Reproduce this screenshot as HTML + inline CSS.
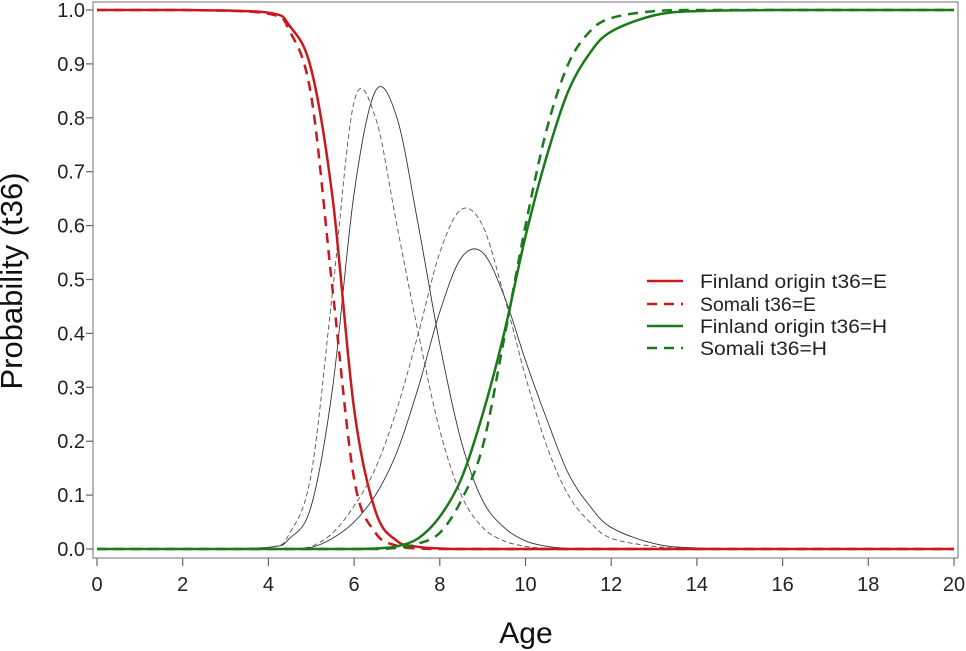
<!DOCTYPE html>
<html><head><meta charset="utf-8"><style>
body{margin:0;background:#fff;}
svg{display:block;font-family:"Liberation Sans",sans-serif;}
</style></head><body>
<svg id="chart" width="966" height="651" xmlns="http://www.w3.org/2000/svg">
<rect x="93" y="2" width="865" height="556" fill="#fff" stroke="#888" stroke-width="1.2"/>
<g id="axes"></g>
<g id="series"></g>
<text x="22" y="281" font-size="31" text-anchor="middle" transform="rotate(-90 22 281)" fill="#111">Probability (t36)</text>
<text x="526" y="643" font-size="30" text-anchor="middle" fill="#111">Age</text>
<g>
<line x1="647" y1="281" x2="683" y2="281" stroke="#c8191e" stroke-width="2.5"/>
<text x="700" y="288" font-size="19" textLength="187" lengthAdjust="spacingAndGlyphs" fill="#222">Finland origin t36=E</text>
<line x1="647" y1="304" x2="683" y2="304" stroke="#c8191e" stroke-width="2.5" stroke-dasharray="10,7"/>
<text x="700" y="311" font-size="19" textLength="116" lengthAdjust="spacingAndGlyphs" fill="#222">Somali t36=E</text>
<line x1="647" y1="326" x2="683" y2="326" stroke="#1a7a1a" stroke-width="2.5"/>
<text x="700" y="333" font-size="19" textLength="187" lengthAdjust="spacingAndGlyphs" fill="#222">Finland origin t36=H</text>
<line x1="647" y1="348" x2="683" y2="348" stroke="#1a7a1a" stroke-width="2.5" stroke-dasharray="10,7"/>
<text x="700" y="355" font-size="19" textLength="127" lengthAdjust="spacingAndGlyphs" fill="#222">Somali t36=H</text>
</g>
</svg>
<script>
const ages =        [0,2,4,4.5,5,5.5,6,6.5,7,7.5,8,8.5,9,9.5,10,10.5,11,11.5,12,13,14,16,20];
const finE =        [1,1,0.995,0.97,0.89,0.65,0.26,0.07,0.015,0.004,0.001,0,0,0,0,0,0,0,0,0,0,0,0];
const somE =        [1,1,0.993,0.96,0.84,0.48,0.13,0.03,0.006,0.001,0,0,0,0,0,0,0,0,0,0,0,0,0];
const finH =        [0,0,0,0,0,0,0,0.001,0.005,0.02,0.06,0.13,0.25,0.4,0.58,0.73,0.85,0.92,0.96,0.99,0.998,1,1];
const somH =        [0,0,0,0,0,0,0,0,0.002,0.01,0.03,0.09,0.19,0.39,0.6,0.78,0.9,0.96,0.985,0.998,1,1,1];
const finMid1 =     [0,0,0.003,0.02,0.08,0.3,0.66,0.85,0.8,0.6,0.38,0.2,0.09,0.04,0.015,0.005,0.001,0,0,0,0,0,0];
const somMid1 =     [0,0,0.003,0.03,0.14,0.48,0.83,0.8,0.6,0.4,0.22,0.1,0.04,0.015,0.005,0.001,0,0,0,0,0,0,0];
const finMid2 =     [0,0,0,0.001,0.003,0.02,0.05,0.1,0.18,0.3,0.44,0.54,0.55,0.47,0.35,0.24,0.14,0.08,0.04,0.01,0.002,0,0];
const somMid2 =     [0,0,0,0.001,0.005,0.03,0.08,0.15,0.26,0.4,0.55,0.63,0.6,0.47,0.32,0.19,0.1,0.05,0.02,0.005,0.001,0,0];
const xTicks = [0,2,4,6,8,10,12,14,16,18,20];
const yTicks = [0,0.1,0.2,0.3,0.4,0.5,0.6,0.7,0.8,0.9,1.0];

const NS="http://www.w3.org/2000/svg";
function xs(v){return 97+v*(954-97)/20;}
function ys(v){return 549-v*(549-10);}
function mk(tag,attrs,parent){const e=document.createElementNS(NS,tag);for(const k in attrs)e.setAttribute(k,attrs[k]);parent.appendChild(e);return e;}
const axes=document.getElementById('axes');
xTicks.forEach(t=>{
  const l=mk('line',{x1:xs(t),x2:xs(t),y1:558,y2:566,stroke:'#666','stroke-width':1.2},axes);
  
  
  const tx=mk('text',{x:xs(t),y:591,'font-size':20,'text-anchor':'middle',fill:'#222'},axes);
  tx.textContent=t;
  
  
});
yTicks.forEach(t=>{
  const l=mk('line',{x1:86,x2:93,y1:ys(t),y2:ys(t),stroke:'#666','stroke-width':1.2},axes);
  
  
  const tx=mk('text',{x:85,y:ys(t)+7,'font-size':20,'text-anchor':'end',fill:'#222'},axes);
  tx.textContent=t.toFixed(1);
  
  
});
function pathFor(vals){
  const p=ages.map((a,i)=>[xs(a),ys(vals[i])]);
  let d='M'+p[0][0]+','+p[0][1];
  for(let i=0;i<p.length-1;i++){
    const p0=p[Math.max(0,i-1)],p1=p[i],p2=p[i+1],p3=p[Math.min(p.length-1,i+2)];
    const t=1/6;
    const c1=[p1[0]+(p2[0]-p0[0])*t,p1[1]+(p2[1]-p0[1])*t];
    const c2=[p2[0]-(p3[0]-p1[0])*t,p2[1]-(p3[1]-p1[1])*t];
    const cy1=Math.min(549,Math.max(10,c1[1])),cy2=Math.min(549,Math.max(10,c2[1]));
    d+=' C'+c1[0]+','+cy1+' '+c2[0]+','+cy2+' '+p2[0]+','+p2[1];
  }
  return d;
}
const ser=document.getElementById('series');
const specs=[
 [finMid1,'#333',0.9,null,'finland-mid1-curve'],
 [somMid1,'#555',0.9,'5,3','somali-mid1-curve'],
 [finMid2,'#333',0.9,null,'finland-mid2-curve'],
 [somMid2,'#555',0.9,'5,3','somali-mid2-curve'],
 [finE,'#c8191e',2.5,null,'finland-e-curve'],
 [somE,'#c8191e',2.5,'10,7','somali-e-curve'],
 [finH,'#1a7a1a',2.5,null,'finland-h-curve'],
 [somH,'#1a7a1a',2.5,'10,7','somali-h-curve']
];
specs.forEach(s=>{
  const a={d:pathFor(s[0]),fill:'none',stroke:s[1],'stroke-width':s[2]};
  if(s[3])a['stroke-dasharray']=s[3];
  const e=mk('path',a,ser);
  
  
});
</script>
</body></html>
